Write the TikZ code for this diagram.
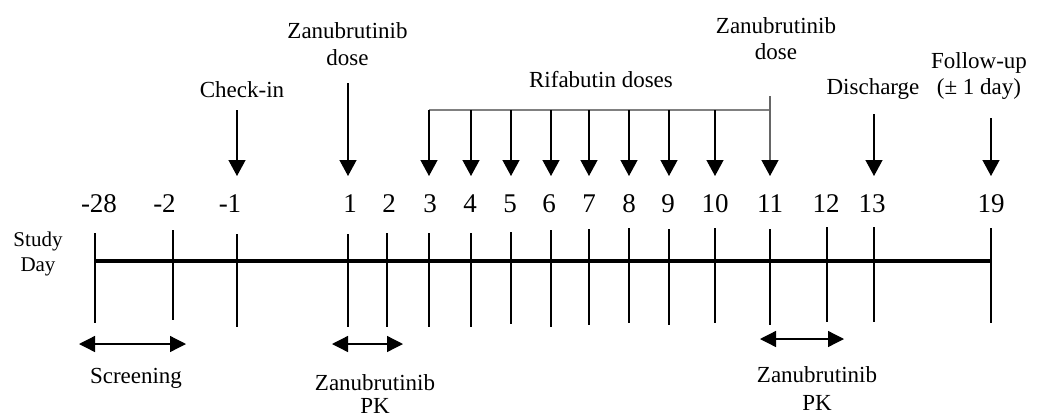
\documentclass[tikz,border=0pt]{standalone}
\usepackage{fontspec}
\setmainfont{Liberation Serif}
\usetikzlibrary{arrows.meta}
\begin{document}
\begin{tikzpicture}[x=1pt,y=-1pt,
  lbl/.style={inner sep=0pt, anchor=base, font=\fontsize{23}{27}\selectfont, align=center},
  numlbl/.style={inner sep=0pt, anchor=base, font=\fontsize{27}{32}\selectfont},
  tickline/.style={line width=1.3pt},
  axisline/.style={line width=4pt},
  darr/.style={line width=1.3pt, {Triangle[length=16pt,width=16pt]}-{Triangle[length=16pt,width=16pt]}},
  varr/.style={line width=1.3pt, -{Triangle[length=16pt,width=17pt,color=black]}},
  brk/.style={line width=2pt, draw=black!50}]
\useasboundingbox (0,0) rectangle (1037,416);

% axis
\coordinate (axL) at (95,261);
\coordinate (axR) at (991,261);
\draw[axisline] (axL) -- (axR);

% ticks
\foreach \n/\x/\t/\b in {m28/95/233/323, m2/173/230/320, m1/237/234/327,
  d1/348/234/327, d2/387/233/327, d3/429/233/327, d4/471/233/327, d5/511/232/324,
  d6/551/230/327, d7/589/229/325, d8/629/228/323, d9/669/229/325, d10/715/228/323,
  d11/770/229/325, d12/827/227/322, d13/874/227/322, d19/991/228/323}{
  \coordinate (t\n) at (\x,\t);
  \coordinate (b\n) at (\x,\b);
  \coordinate (a\n) at (\x,176);
  \draw[tickline] (t\n) -- (b\n);
}

% day numbers
\foreach \n/\x/\s in {m28/99/-28, m2/164.5/-2, m1/230/-1, d1/350/1, d2/389/2, d3/430/3,
  d4/470/4, d5/510/5, d6/549/6, d7/589/7, d8/629/8, d9/668/9, d10/715/10,
  d11/770/11, d12/826/12, d13/872/13, d19/991/19}{
  \node[numlbl] (n\n) at (\x,212) {\s};
}

\node[lbl, font=\fontsize{21}{25}\selectfont] (study) at (38,271) {Study\\Day};

% top labels (base anchor = last line baseline)
\node[lbl] (zd1) at (347.5,65) {Zanubrutinib\\dose};
\node[lbl] (chk) at (242,97) {Check-in};
\node[lbl] (rif) at (601,87) {Rifabutin doses};
\node[lbl, font=\fontsize{23}{26}\selectfont] (zd2) at (776,59) {Zanubrutinib\\dose};
\node[lbl] (dis) at (873,94) {Discharge};
\node[lbl, font=\fontsize{23}{26}\selectfont] (fol) at (979,94) {Follow-up\\(± 1 day)};

% top arrows
\coordinate (sChk) at (237,110);
\coordinate (sZd1) at (348,83);
\coordinate (sZd2) at (770,96);
\coordinate (sDis) at (874,114);
\coordinate (sFol) at (991,118);
\coordinate (brL) at (429,110);
\coordinate (brR) at (770,110);
\draw[varr] (sChk) -- (am1);
\draw[varr] (sZd1) -- (ad1);
\draw[brk] (brL) -- (brR);
\foreach \n/\x in {d3/429, d4/471, d5/511, d6/551, d7/589, d8/629, d9/669, d10/715}{
  \coordinate (r\n) at (\x,110);
  \draw[varr] (r\n) -- (a\n);
}
\draw[varr, draw=black!60] (sZd2) -- (ad11);
\draw[varr] (sDis) -- (ad13);
\draw[varr] (sFol) -- (ad19);

% bottom spans
\coordinate (scL) at (79,344);
\coordinate (scR) at (186,344);
\coordinate (p1L) at (332,344);
\coordinate (p1R) at (403,344);
\coordinate (p2L) at (760,339);
\coordinate (p2R) at (844,339);
\draw[darr] (scL) -- (scR);
\draw[darr] (p1L) -- (p1R);
\draw[darr] (p2L) -- (p2R);

\node[lbl] (scr) at (136,383) {Screening};
\node[lbl, font=\fontsize{23}{23}\selectfont] (pk1) at (375,413) {Zanubrutinib\\PK};
\node[lbl, font=\fontsize{23}{28}\selectfont] (pk2) at (817,410) {Zanubrutinib\\PK};
\end{tikzpicture}
\end{document}
